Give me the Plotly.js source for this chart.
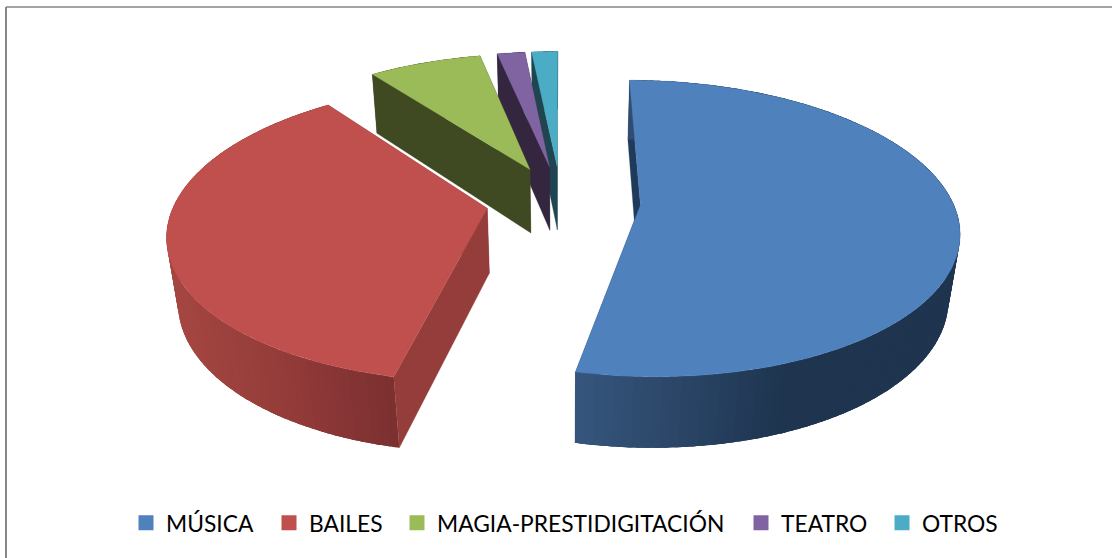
<!DOCTYPE html>
<html><head><meta charset="utf-8">
<script src="https://cdn.plot.ly/plotly-3.0.1.min.js"></script>
<style>html,body{margin:0;padding:0;background:#fff}#c{width:1112px;height:558px}</style>
</head><body><div id="c"></div>
<script>
const categories = ["MÚSICA","BAILES","MAGIA-PRESTIDIGITACIÓN","TEATRO","OTROS"];
const values = [53.44,36.32,6.94,1.7,1.6];
const explosion = [0.255,0.24,0.25,0.25,0.25];
const topColors = ["#4f81bd","#c0504d","#9bbb59","#8064a2","#4bacc6"];
const faceColors = ["#1f3a5a","#953d3b","#404a22","#35263f","#1f4650"];
const wallStops = [
  [[575,[54,86,125]],[790,[30,52,79]],[960,[30,52,79]]],
  [[170,[165,70,66]],[280,[148,60,57]],[340,[135,52,54]],[398,[122,48,47]]],
  [[0,[64,74,34]],[1112,[64,74,34]]],
  [[0,[53,38,63]],[1112,[53,38,63]]],
  [[0,[31,70,80]],[1112,[31,70,80]]]
];
const legendTextLeft = [166,309,437,781,922];
const CX=561, CY=201, RX=312, RY=143.3, DEPTH=66.6, K=0.158, M=0.029;

function project(X,Y,Z){
  const w=1+K*Y+M*Z;
  return [CX+RX*X/w, CY+(-RY*Y+DEPTH*Z)/w];
}
function wallColor(stops,x){
  if(x<=stops[0][0]) return stops[0][1];
  for(let i=1;i<stops.length;i++){
    if(x<=stops[i][0]){
      const t=(x-stops[i-1][0])/(stops[i][0]-stops[i-1][0]);
      return stops[i][1].map((c,j)=>Math.round(stops[i-1][1][j]+(c-stops[i-1][1][j])*t));
    }
  }
  return stops[stops.length-1][1];
}
function poly(pts,color,lw){
  return {x:pts.map(p=>p[0]).concat([pts[0][0]]),y:pts.map(p=>p[1]).concat([pts[0][1]]),
    mode:lw?'lines':'none',fill:'toself',fillcolor:color,line:{color:color,width:lw||0},
    hoverinfo:'skip',showlegend:false,type:'scatter'};
}
const total=values.reduce((a,b)=>a+b,0);
const slices=[];let acc=0;
values.forEach((v,i)=>{const a0=acc/total*2*Math.PI;acc+=v;const a1=acc/total*2*Math.PI;slices.push({i,a0,a1});});
const traces=[];
[4,3,2,1,0].forEach(i=>{
  const s=slices[i],mid=(s.a0+s.a1)/2,ox=explosion[i]*Math.sin(mid),oy=explosion[i]*Math.cos(mid);
  const P=(a,r,z)=>project(ox+r*Math.sin(a),oy+r*Math.cos(a),z);
  [s.a1,s.a0].forEach(a=>traces.push(poly([P(a,0,0),P(a,1,0),P(a,1,1),P(a,0,1)],faceColors[i],0.3)));
  const n=Math.max(4,Math.round((s.a1-s.a0)/(1.5*Math.PI/180)));
  const step=(s.a1-s.a0)/n;
  for(let j=0;j<n;j++){
    const a=s.a0+step*j,b=Math.min(s.a1,a+step*2.5);
    const arc=[];
    for(let t=0;t<=5;t++) arc.push(a+(b-a)*t/5);
    const pts=arc.map(v=>P(v,1,0)).concat(arc.slice().reverse().map(v=>P(v,1,1)));
    const q=P(a+step/2,1,0),c=wallColor(wallStops[i],q[0]);
    traces.push(poly(pts,`rgb(${c[0]},${c[1]},${c[2]})`));
  }
  const top=[P(s.a0,0,0)];
  const m=Math.max(6,Math.round((s.a1-s.a0)/(Math.PI/180)));
  for(let j=0;j<=m;j++) top.push(P(s.a0+(s.a1-s.a0)*j/m,1,0));
  traces.push(poly(top,topColors[i],0.3));
});
const legendLayouts={};
categories.forEach((c,i)=>{
  const key=i===0?'legend':'legend'+(i+1);
  traces.push({x:[null],y:[null],type:'scatter',mode:'markers',name:c,legend:key,
    marker:{symbol:'square',size:15,color:topColors[i]},hoverinfo:'skip',showlegend:true});
  legendLayouts[key]={x:(legendTextLeft[i]-40)/1112,xanchor:'left',y:1-523/558,yanchor:'middle',
    font:{family:'Lato, Carlito, sans-serif',size:22.8,color:'#000'},bgcolor:'rgba(0,0,0,0)'};
});
const layout=Object.assign({
  width:1112,height:558,margin:{l:0,r:0,t:0,b:0},paper_bgcolor:'#fff',plot_bgcolor:'#fff',
  xaxis:{range:[0,1112],visible:false,fixedrange:true},
  yaxis:{range:[558,0],visible:false,fixedrange:true},
  showlegend:true,
  shapes:[
    {type:'line',xref:'x',yref:'y',x0:6,x1:1112,y0:7,y1:7,line:{color:'#868686',width:1.5}},
    {type:'line',xref:'x',yref:'y',x0:6,x1:6,y0:7,y1:558,line:{color:'#868686',width:2}}
  ]
},legendLayouts);
Plotly.newPlot('c',traces,layout,{displayModeBar:false,staticPlot:true});
</script></body></html>
